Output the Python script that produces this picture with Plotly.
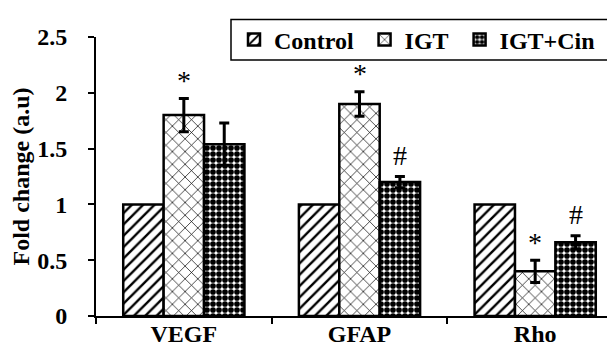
import plotly.graph_objects as go

categories = ["VEGF", "GFAP", "Rho"]
series_names = ["Control", "IGT", "IGT+Cin"]
control = [1.0, 1.0, 1.0]
igt = [1.80, 1.90, 0.40]
igt_cin = [1.54, 1.20, 0.66]
control_err = [0, 0, 0]
igt_err = [0.15, 0.11, 0.10]
igt_cin_err = [0.19, 0.05, 0.06]
y_ticks = [0, 0.5, 1, 1.5, 2, 2.5]
y_tick_labels = ["0", "0.5", "1", "1.5", "2", "2.5"]
# significance marks: (category, series index, symbol)
marks = [("VEGF", 1, "*"), ("GFAP", 1, "*"), ("GFAP", 2, "#"), ("Rho", 1, "*"), ("Rho", 2, "#")]

FONT = "Liberation Serif, Times New Roman, serif"
FS = 24
values = [control, igt, igt_cin]
errors = [control_err, igt_err, igt_cin_err]
patterns = [
    dict(shape="/", size=8, solidity=0.3, fgcolor="black", bgcolor="white", fgopacity=1),
    dict(shape="x", size=9, solidity=0.15, fgcolor="black", bgcolor="white", fgopacity=1),
    dict(shape=".", size=6, solidity=0.7, fgcolor="black", bgcolor="white", fgopacity=1),
]
legend_pad = ["\u00a0", "\u00a0", ""]

fig = go.Figure()
for name, vals, errs, pat, pad in zip(series_names, values, errors, patterns, legend_pad):
    show_err = any(e > 0 for e in errs)
    fig.add_trace(go.Bar(
        x=categories, y=vals, name="<b>%s</b>%s" % (name, pad),
        marker=dict(color="white", line=dict(color="black", width=2.5), pattern=pat),
        error_y=dict(type="data", array=errs, visible=show_err, color="black", thickness=3, width=5),
    ))

bar_px = 40.5
for cat, si, sym in marks:
    idx = categories.index(cat)
    top = values[si][idx] + errors[si][idx]
    fig.add_annotation(x=cat, y=top, text=sym, showarrow=False, xshift=(si - 1) * bar_px,
                       yshift=18 if sym == "*" else 21, font=dict(family=FONT, size=28, color="black"))

# legend frame
fig.add_shape(type="rect", xref="paper", yref="paper",
              x0=(223 - 88) / 527, x1=1.02, y0=(308 - 52) / 279, y1=(308 - 11.5) / 279,
              line=dict(color="black", width=1.5), fillcolor="white", layer="above")

fig.update_layout(
    width=615, height=347,
    margin=dict(l=88, r=0, t=29, b=39, autoexpand=False),
    paper_bgcolor="white", plot_bgcolor="white",
    barmode="group", bargap=0.31, bargroupgap=0,
    font=dict(family=FONT, size=FS, color="black"),
    legend=dict(orientation="h", x=(226 - 88) / 527, y=(308 - 32) / 279, xanchor="left", yanchor="middle",
                borderwidth=0, font=dict(family=FONT, size=FS, color="black"),
                itemwidth=30, bgcolor="rgba(0,0,0,0)", tracegroupgap=0),
    showlegend=True,
)
fig.update_xaxes(showline=True, linecolor="black", linewidth=2, ticks="outside", tickson="boundaries",
                 ticklen=6, tickwidth=2, tickcolor="black", range=[-0.5, 2.5], automargin=False,
                 tickvals=categories, ticktext=["<b>%s</b>" % c for c in categories],
                 ticklabelstandoff=-5,
                 tickfont=dict(family=FONT, size=FS, color="black"))
fig.update_yaxes(showline=True, linecolor="black", linewidth=2, ticks="outside", ticklen=6, tickwidth=2,
                 tickcolor="black", range=[0, 2.5], tickvals=y_ticks, automargin=False,
                 ticktext=["<b>%s</b>" % t for t in y_tick_labels],
                 ticklabelstandoff=16,
                 showgrid=False, zeroline=False,
                 tickfont=dict(family=FONT, size=FS, color="black"),
                 title=dict(text="<b>Fold change (a.u)</b>", font=dict(family=FONT, size=FS, color="black"), standoff=2))

fig.write_html("out.html")
